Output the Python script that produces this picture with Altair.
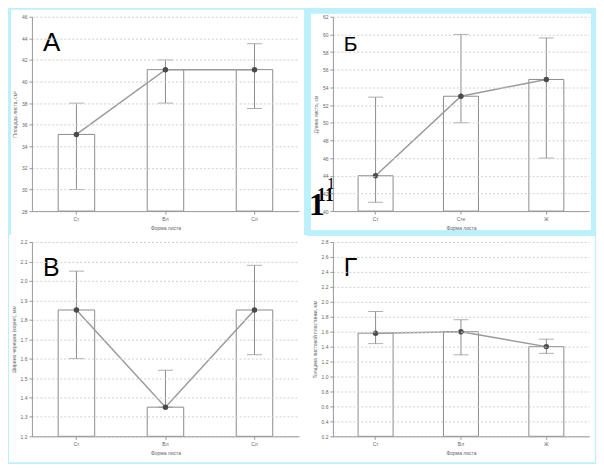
import altair as alt
import pandas as pd

# ---------------- data ----------------
a_cats = ["Ст", "Вл", "Сл"]
a_mean = [35.1, 41.1, 41.1]
a_lo = [30.0, 38.0, 37.5]
a_hi = [38.0, 42.0, 43.5]
a_ticks = [28, 30, 32, 34, 36, 38, 40, 42, 44, 46]

b_cats = ["Ст", "Сте", "Ж"]
b_mean = [44.0, 53.0, 54.9]
b_lo = [41.0, 50.0, 46.0]
b_hi = [52.9, 60.0, 59.6]
b_ticks = [40, 42, 44, 46, 48, 50, 52, 54, 56, 58, 60, 62]

c_cats = ["Ст", "Вл", "Сл"]
c_mean = [1.85, 1.35, 1.85]
c_lo = [1.60, 1.35, 1.62]
c_hi = [2.05, 1.54, 2.08]
c_ticks = [1.2, 1.3, 1.4, 1.5, 1.6, 1.7, 1.8, 1.9, 2.0, 2.1, 2.2]

d_cats = ["Ст", "Вл", "Ж"]
d_mean = [1.58, 1.60, 1.40]
d_lo = [1.44, 1.29, 1.31]
d_hi = [1.87, 1.76, 1.50]
d_ticks = [0.2, 0.4, 0.6, 0.8, 1.0, 1.2, 1.4, 1.6, 1.8, 2.0, 2.2, 2.4, 2.6, 2.8]

GRAY = "#8c8c8c"
BG = "#bcf0fa"
H = 195


def panel(cats, mean, lo, hi, ticks, fmt, ytitle, xtitle, letter, lsize,
          W, rect, extra=None):
    df = pd.DataFrame({"cat": cats, "mean": mean, "lo": lo, "hi": hi})
    one = pd.DataFrame({"k": [0]})
    dom = [ticks[0], ticks[-1]]
    x = alt.X("cat:N", sort=cats,
              scale=alt.Scale(paddingInner=0.59, paddingOuter=0.295),
              axis=alt.Axis(title=xtitle, labelAngle=0, zindex=1))
    yscale = alt.Scale(domain=dom, nice=False, zero=False)
    yaxis = alt.Axis(title=ytitle, values=ticks, format=fmt, grid=True,
                     gridDash=[2, 2], gridColor="#cfcfcf", zindex=1,
                     labelOverlap=False)

    def Y(f):
        return alt.Y(f"{f}:Q", scale=yscale, axis=yaxis)

    base = alt.Chart(df)
    bg = alt.Chart(one).mark_rect(fill="white").encode(
        x=alt.value(rect[0]), x2=alt.value(W + rect[1]),
        y=alt.value(rect[2]), y2=alt.value(H + rect[3]))
    bars = base.mark_bar(fill="white", stroke=GRAY, strokeWidth=1).encode(
        x=x, y=Y("mean"), y2=alt.datum(dom[0]))
    err = base.mark_rule(color=GRAY, strokeWidth=1).encode(
        x=x, y=Y("lo"), y2="hi:Q")
    cap_lo = base.mark_tick(color=GRAY, size=15, thickness=1).encode(
        x=x, y=Y("lo"))
    cap_hi = base.mark_tick(color=GRAY, size=15, thickness=1).encode(
        x=x, y=Y("hi"))
    line = base.mark_line(color="#9a9a9a", strokeWidth=1.5).encode(
        x=x, y=Y("mean"))
    pts = base.mark_circle(color="#4a4a4a", size=30, opacity=1).encode(
        x=x, y=Y("mean"))
    lab = alt.Chart(one).mark_text(
        text=letter, fontSize=lsize, font="Liberation Sans", align="left",
        baseline="alphabetic", color="black").encode(
        x=alt.value(11), y=alt.value(34))
    layers = [bg, bars, err, cap_lo, cap_hi, line, pts, lab]
    if extra:
        for txt, fs, fw, xx, yy in extra:
            layers.append(alt.Chart(one).mark_text(
                text=txt, fontSize=fs, fontWeight=fw, font="Liberation Serif",
                align="left", baseline="alphabetic", color="black").encode(
                x=alt.value(xx), y=alt.value(yy)))
    return alt.layer(*layers).properties(width=W, height=H)


W1 = 268
W2 = 257

pA = panel(a_cats, a_mean, a_lo, a_hi, a_ticks, "d",
           "Площадь листа, см²", "Форма листа", "А", 26, W1, (-21, 5, -7, 24))
pB = panel(b_cats, b_mean, b_lo, b_hi, b_ticks, "d",
           "Длина листа, см", "Форма листа", "Б", 21, W2, (-22, 2, -3, 19),
           extra=[("1", 32, "bold", -24, 199),
                  ("11", 18, "bold", -16, 185),
                  ("1", 16, "normal", -6, 173)])
pC = panel(c_cats, c_mean, c_lo, c_hi, c_ticks, ".1f",
           "Ширина черешка (корня), мм", "Форма листа", "В", 25, W1,
           (-23, 7, -7, 26))
pD = panel(d_cats, d_mean, d_lo, d_hi, d_ticks, ".1f",
           "Толщина листовой пластинки, мм", "Форма листа", "Г", 25, W2,
           (-27, 6, -6, 26))

chart = alt.concat(pA, pB, pC, pD, columns=2,
                   spacing={"row": 31, "column": 34}, bounds="flush").configure(
    background=BG, padding=0
).configure_view(
    stroke="#9a9a9a", strokeWidth=1, fill="white"
).configure_axis(
    labelFontSize=5, labelColor="#666", titleFontSize=5, titleColor="#666",
    titleFontWeight="normal", labelFont="Liberation Sans",
    titleFont="Liberation Sans", tickColor="#999", tickSize=3,
    domainColor="#999", labelPadding=2, titlePadding=4
)

chart.save("out.html", embed_options={"renderer": "svg", "actions": False})
